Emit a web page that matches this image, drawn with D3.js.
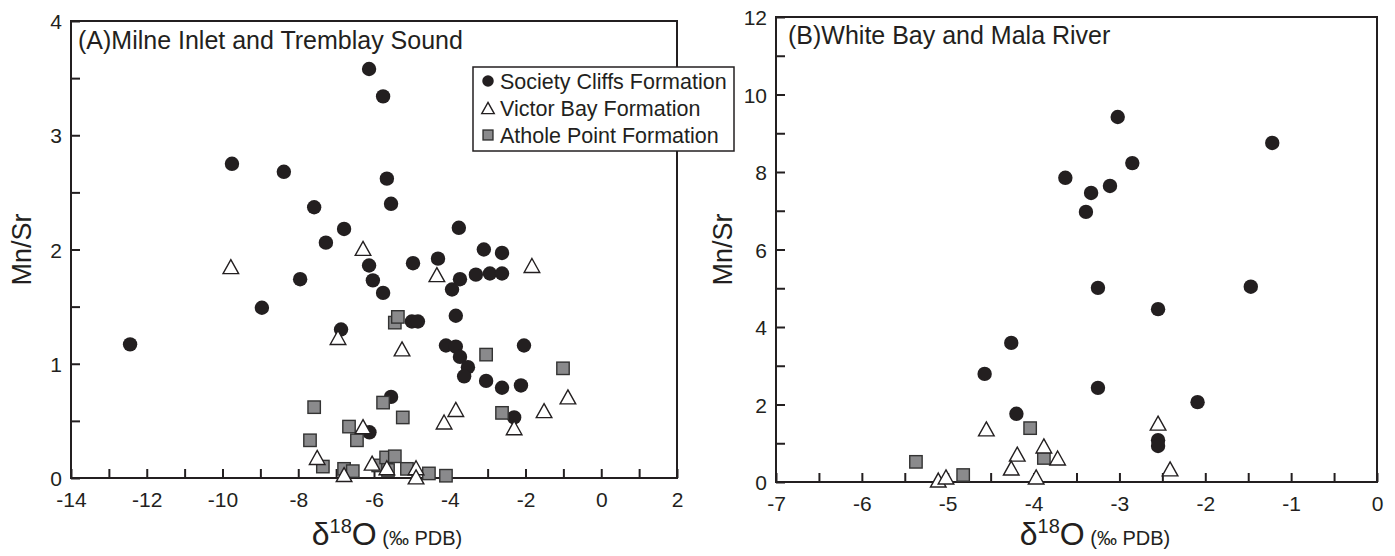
<!DOCTYPE html>
<html><head><meta charset="utf-8">
<script src="https://cdn.jsdelivr.net/npm/d3@7"></script>
<style>
html,body{margin:0;padding:0;background:#fff;}
svg{display:block;font-family:"Liberation Sans",Arial,Helvetica,sans-serif;}
</style></head>
<body><svg id="c" width="1395" height="556"></svg>
<script>
// ---------- Panel A data: Milne Inlet and Tremblay Sound ----------
const aSociety = [
[-12.44,1.17],[-9.75,2.75],[-8.96,1.49],[-8.38,2.68],[-7.95,1.74],[-7.58,2.37],[-7.27,2.06],
[-6.79,2.18],[-6.87,1.30],[-6.13,3.58],[-5.76,3.34],[-5.66,2.62],[-5.55,2.40],[-6.13,1.86],
[-6.03,1.73],[-5.76,1.62],[-5.55,0.71],[-6.12,0.40],[-4.97,1.88],[-4.31,1.92],[-3.76,2.19],
[-3.10,2.00],[-2.62,1.97],[-3.73,1.74],[-3.94,1.65],[-3.31,1.78],[-2.94,1.79],[-2.62,1.79],
[-5.00,1.37],[-4.84,1.37],[-3.84,1.42],[-4.10,1.16],[-3.84,1.15],[-3.73,1.06],[-3.52,0.97],
[-3.62,0.89],[-3.04,0.85],[-2.62,0.79],[-2.12,0.81],[-2.04,1.16],[-2.30,0.53]
];
const aVictor = [
[-9.78,1.85],[-6.29,2.01],[-6.95,1.23],[-6.29,0.45],[-7.50,0.18],[-6.79,0.03],[-6.05,0.13],
[-5.66,0.09],[-4.34,1.78],[-1.83,1.86],[-5.26,1.13],[-3.84,0.60],[-4.15,0.49],[-1.51,0.59],
[-0.88,0.71],[-2.30,0.44],[-4.89,0.09],[-4.89,0.01]
];
const aAthole = [
[-7.58,0.62],[-6.66,0.45],[-7.69,0.33],[-6.45,0.33],[-7.35,0.10],[-6.79,0.08],[-6.56,0.06],
[-5.76,0.66],[-5.45,1.36],[-5.37,1.41],[-5.89,0.11],[-5.68,0.18],[-5.45,0.19],[-5.63,0.07],
[-5.24,0.53],[-3.04,1.08],[-1.01,0.96],[-2.62,0.57],[-5.13,0.08],[-4.55,0.04],[-4.10,0.02]
];
// ---------- Panel B data: White Bay and Mala River ----------
const bSociety = [
[-3.02,9.42],[-1.22,8.75],[-2.85,8.23],[-3.63,7.85],[-3.11,7.64],[-3.33,7.46],[-3.39,6.97],
[-3.25,5.01],[-1.47,5.04],[-2.55,4.46],[-3.25,2.43],[-2.09,2.06],[-2.55,1.08],[-2.55,0.93],
[-4.26,3.59],[-4.57,2.79],[-4.20,1.76]
];
const bVictor = [
[-4.55,1.37],[-4.19,0.72],[-4.26,0.36],[-3.88,0.93],[-3.72,0.62],[-3.97,0.13],[-5.11,0.05],
[-5.02,0.13],[-2.55,1.52],[-2.41,0.34]
];
const bAthole = [[-5.37,0.52],[-4.82,0.18],[-4.04,1.39],[-3.88,0.62]];

// ---------- Axis ticks ----------
const aXTicks = d3.range(-14, 2.01, 1), aXLabels = [-14,-12,-10,-8,-6,-4,-2,0,2];
const aYTicks = d3.range(0, 4.01, 0.5), aYLabels = [0,1,2,3,4];
const bXTicks = d3.range(-7, 0.01, 0.5), bXLabels = [-7,-6,-5,-4,-3,-2,-1,0];
const bYTicks = d3.range(0, 12.01, 1), bYLabels = [0,2,4,6,8,10,12];

const legendNames = ["Society Cliffs Formation","Victor Bay Formation","Athole Point Formation"];
const titles = ["(A)Milne Inlet and Tremblay Sound","(B)White Bay and Mala River"];

const INK = "#231f20", GREY = "#8a8a8c";
const svg = d3.select("#c");

function marker(g, type, x, y, s) {
  if (type === "circle") {
    g.append("circle").attr("cx", x).attr("cy", y).attr("r", 7.2*s).attr("fill", INK);
  } else if (type === "tri") {
    const w = 7.8*s, h = 7*s;
    g.append("path").attr("d", `M${x},${y-h}L${x+w},${y+h}L${x-w},${y+h}Z`)
      .attr("fill", "#fff").attr("stroke", INK).attr("stroke-width", 1.4);
  } else {
    const a = 6.2*s;
    g.append("rect").attr("x", x-a).attr("y", y-a).attr("width", 2*a).attr("height", 2*a)
      .attr("fill", GREY).attr("stroke", "#333").attr("stroke-width", 1.4);
  }
}

function panel(cfg) {
  const {x0,x1,y0,y1,xd,yd,xt,xl,yt,yl,soc,vic,ath,title,tx,ty,ylabX,xTitleX} = cfg;
  const x = d3.scaleLinear().domain(xd).range([x0,x1]);
  const y = d3.scaleLinear().domain(yd).range([y1,y0]);
  const g = svg.append("g");
  const fmtX = d => xl.some(v => Math.abs(v-d) < 1e-9) ? String(d) : "";
  const fmtY = d => yl.some(v => Math.abs(v-d) < 1e-9) ? String(d) : "";
  const ax = g.append("g").attr("transform", `translate(0,${y1})`)
    .call(d3.axisBottom(x).tickValues(xt).tickSize(-9).tickPadding(14).tickFormat(fmtX));
  const ay = g.append("g").attr("transform", `translate(${x0},0)`)
    .call(d3.axisLeft(y).tickValues(yt).tickSize(-9).tickPadding(9).tickFormat(fmtY));
  [ax, ay].forEach(a => {
    a.select(".domain").remove();
    a.selectAll("line").attr("stroke", INK).attr("stroke-width", 2);
    a.selectAll("text").attr("fill", INK).style("font-size", "21px");
  });
  ay.selectAll("text").attr("dy", "0.36em");
  g.append("rect").attr("x", x0).attr("y", y0).attr("width", x1-x0).attr("height", y1-y0)
    .attr("fill", "none").attr("stroke", INK).attr("stroke-width", 2);
  const m = g.append("g");
  soc.forEach(d => marker(m, "circle", x(d[0]), y(d[1]), 1));
  ath.forEach(d => marker(m, "square", x(d[0]), y(d[1]), 1));
  vic.forEach(d => marker(m, "tri", x(d[0]), y(d[1]), 1));
  g.append("text").attr("x", tx).attr("y", ty).attr("fill", INK).style("font-size", "25px").text(title);
  g.append("text").attr("transform", `translate(${ylabX},${(y0+y1)/2}) rotate(-90)`)
    .attr("text-anchor", "middle").attr("fill", INK).style("font-size", "27px").text("Mn/Sr");
  const t = g.append("text").attr("x", xTitleX).attr("y", 545).attr("text-anchor", "middle").attr("fill", INK);
  t.append("tspan").style("font-size", "32px").text("δ");
  t.append("tspan").style("font-size", "20px").attr("dy", -12).text("18");
  t.append("tspan").style("font-size", "32px").attr("dy", 12).text("O");
  t.append("tspan").style("font-size", "20px").text(" (‰ PDB)");
  return {x, y, g};
}

panel({x0:71, x1:677, y0:21, y1:478, xd:[-14,2], yd:[0,4], xt:aXTicks, xl:aXLabels, yt:aYTicks, yl:aYLabels,
  soc:aSociety, vic:aVictor, ath:aAthole, title:titles[0], tx:78, ty:49, ylabX:31, xTitleX:387});
panel({x0:776, x1:1377, y0:17, y1:482, xd:[-7,0], yd:[0,12], xt:bXTicks, xl:bXLabels, yt:bYTicks, yl:bYLabels,
  soc:bSociety, vic:bVictor, ath:bAthole, title:titles[1], tx:788, ty:44, ylabX:732, xTitleX:1095});

// legend (panel A)
const lg = svg.append("g");
lg.append("rect").attr("x", 473).attr("y", 67).attr("width", 261).attr("height", 84)
  .attr("fill", "#fff").attr("stroke", INK).attr("stroke-width", 1.5);
["circle","tri","square"].forEach((tp, i) => {
  const cy = 81 + i*27;
  marker(lg, tp, 488, cy, tp === "circle" ? 0.8 : 0.8);
  lg.append("text").attr("x", 500).attr("y", cy + 8).attr("fill", INK).style("font-size", "21.5px").text(legendNames[i]);
});
</script></body></html>
